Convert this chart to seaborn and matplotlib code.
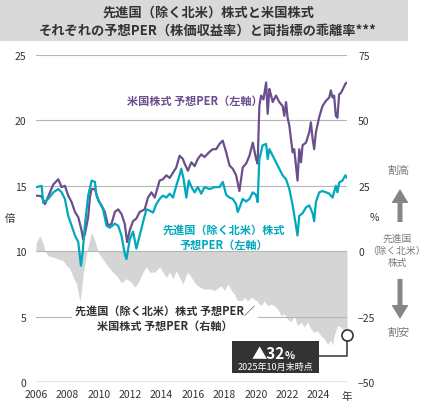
import matplotlib
matplotlib.use("Agg")
import matplotlib.pyplot as plt
from matplotlib.patches import Rectangle, FancyArrow
from matplotlib.lines import Line2D
import numpy as np
import pandas as pd
import seaborn as sns

# %% data (decimal years)
us_year = [2006.04, 2006.36, 2006.57, 2006.89, 2007.10, 2007.42, 2007.63, 2007.84, 2008.05, 2008.27,
           2008.48, 2008.69, 2008.90, 2009.00, 2009.11, 2009.32, 2009.43, 2009.54, 2009.75, 2009.96,
           2010.17, 2010.38, 2010.59, 2010.81, 2011.02, 2011.23, 2011.44, 2011.65, 2011.80, 2011.97,
           2012.18, 2012.39, 2012.60, 2012.92, 2013.13, 2013.35, 2013.56, 2013.87, 2014.08, 2014.30,
           2014.51, 2014.72, 2014.93, 2015.14, 2015.35, 2015.46, 2015.67, 2015.89, 2016.10, 2016.30,
           2016.52, 2016.73, 2017.05, 2017.26, 2017.47, 2017.68, 2017.89, 2018.11, 2018.32, 2018.53,
           2018.74, 2018.95, 2019.16, 2019.38, 2019.59, 2019.80, 2020.01, 2020.11, 2020.22, 2020.33,
           2020.48, 2020.65, 2020.75, 2020.86, 2020.97, 2021.07, 2021.28, 2021.49, 2021.70, 2021.81,
           2021.92, 2022.02, 2022.13, 2022.23, 2022.34, 2022.44, 2022.55, 2022.65, 2022.76, 2022.87,
           2022.97, 2023.19, 2023.40, 2023.50, 2023.61, 2023.71, 2023.82, 2024.03, 2024.24, 2024.46,
           2024.67, 2024.77, 2024.88, 2024.98, 2025.09, 2025.19, 2025.30, 2025.41, 2025.54, 2025.70,
           2025.80]
us_per = [14.25, 14.2, 13.6, 14.5, 15.1, 15.5, 14.9, 15.0, 14.25, 13.75,
          13.0, 12.6, 11.6, 10.9, 11.3, 12.6, 14.1, 14.75, 14.75, 13.9,
          13.5, 13.0, 11.95, 12.1, 13.0, 13.2, 12.85, 12.1, 10.7, 11.6,
          12.3, 12.5, 13.0, 13.2, 14.1, 14.5, 14.1, 15.4, 15.5, 15.8,
          15.6, 16.0, 16.4, 17.3, 17.05, 16.7, 16.15, 16.8, 16.5, 17.05,
          17.4, 17.2, 17.6, 17.8, 17.8, 18.2, 18.45, 17.55, 16.55, 16.3,
          15.8, 14.6, 16.4, 16.7, 17.3, 18.3, 17.05, 16.7, 21.1, 21.9,
          21.6, 22.9, 20.5, 22.4, 21.9, 21.4, 21.9, 21.4, 21.1, 20.35,
          21.4, 20.2, 19.6, 18.6, 17.55, 17.8, 16.55, 15.4, 17.8, 16.8,
          18.1, 18.3, 19.1, 19.85, 18.6, 17.8, 19.1, 20.25, 21.1, 21.5,
          21.75, 22.3, 21.75, 21.9, 20.35, 20.2, 22.0, 22.1, 22.4, 22.8,
          22.9]

dev_year = [2006.04, 2006.36, 2006.46, 2006.78, 2007.10, 2007.42, 2007.63, 2007.84, 2008.05, 2008.27,
            2008.48, 2008.69, 2008.79, 2008.86, 2008.97, 2009.11, 2009.32, 2009.54, 2009.75, 2009.85,
            2010.06, 2010.27, 2010.49, 2010.70, 2011.02, 2011.23, 2011.44, 2011.65, 2011.76, 2011.97,
            2012.18, 2012.39, 2012.60, 2012.81, 2013.03, 2013.24, 2013.45, 2013.66, 2013.87, 2014.08,
            2014.30, 2014.51, 2014.72, 2014.93, 2015.14, 2015.25, 2015.40, 2015.57, 2015.73, 2015.90,
            2016.10, 2016.30, 2016.52, 2016.73, 2017.05, 2017.37, 2017.68, 2017.89, 2018.11, 2018.32,
            2018.53, 2018.74, 2018.84, 2018.95, 2019.16, 2019.38, 2019.59, 2019.80, 2020.01, 2020.11,
            2020.22, 2020.43, 2020.65, 2020.75, 2020.86, 2021.07, 2021.28, 2021.49, 2021.70, 2021.92,
            2022.13, 2022.34, 2022.55, 2022.65, 2022.76, 2022.97, 2023.19, 2023.40, 2023.61, 2023.71,
            2023.82, 2024.03, 2024.24, 2024.46, 2024.67, 2024.88, 2025.09, 2025.19, 2025.30, 2025.51,
            2025.70, 2025.80]
dev_per = [14.9, 15.0, 13.7, 14.0, 14.5, 14.75, 14.5, 14.0, 12.7, 11.95,
           11.2, 10.7, 9.65, 8.9, 9.9, 11.95, 14.25, 15.4, 15.3, 14.25,
           13.7, 13.2, 11.95, 11.8, 12.1, 11.95, 11.2, 9.8, 9.4, 10.9,
           11.5, 10.2, 11.2, 12.2, 13.2, 13.1, 12.95, 13.6, 14.0, 14.25,
           14.1, 14.4, 14.1, 15.0, 15.8, 16.3, 15.5, 14.1, 15.4, 14.9,
           14.5, 14.9, 14.4, 14.9, 14.75, 14.9, 14.9, 15.3, 14.3, 14.1,
           14.0, 13.6, 13.0, 13.3, 14.0, 13.8, 14.0, 14.5, 14.3, 13.75,
           17.05, 18.1, 18.2, 17.05, 17.8, 17.3, 16.8, 16.3, 15.8, 15.5,
           14.75, 13.5, 11.95, 11.2, 12.7, 12.9, 13.35, 13.5, 12.9, 12.3,
           13.75, 14.5, 14.6, 14.5, 14.4, 14.1, 15.0, 14.5, 15.25, 15.4,
           15.8, 15.6]

gap_year = [2006.00, 2006.25, 2006.46, 2006.57, 2006.78, 2007.10, 2007.42, 2007.71, 2007.95, 2008.16,
            2008.37, 2008.58, 2008.79, 2008.90, 2009.00, 2009.22, 2009.38, 2009.54, 2009.75, 2009.96,
            2010.17, 2010.49, 2010.81, 2011.12, 2011.44, 2011.76, 2012.08, 2012.29, 2012.50, 2012.81,
            2013.03, 2013.24, 2013.56, 2013.87, 2014.08, 2014.30, 2014.51, 2014.72, 2014.93, 2015.14,
            2015.35, 2015.57, 2015.67, 2015.89, 2016.10, 2016.30, 2016.52, 2016.73, 2016.94, 2017.15,
            2017.37, 2017.58, 2017.79, 2018.00, 2018.21, 2018.43, 2018.63, 2018.84, 2019.06, 2019.27,
            2019.48, 2019.69, 2019.90, 2020.11, 2020.33, 2020.54, 2020.75, 2020.97, 2021.17, 2021.38,
            2021.60, 2021.81, 2022.02, 2022.23, 2022.44, 2022.65, 2022.87, 2023.08, 2023.29, 2023.50,
            2023.71, 2023.92, 2024.14, 2024.35, 2024.56, 2024.77, 2024.88, 2024.98, 2025.19, 2025.41,
            2025.62, 2025.80]
gap_pct = [3, 6, 2.75, 0, -1.75, -2.25, -3, -3.5, -5.5, -6.75,
           -10, -12.5, -19, -15, -8.75, -1, 3.5, 7.25, 4, -0.5,
           -2.25, -5, -7.5, -9.25, -12, -10.5, -12, -13.75, -12, -8,
           -6, -8, -8, -6, -8, -10, -8, -10.5, -7.5, -10,
           -12.5, -9, -8, -10, -12, -13.25, -14, -14.5, -14.5, -14.5,
           -15.1, -14, -13.25, -15, -12.5, -15, -16.4, -19, -19.5, -17.6,
           -19, -17.6, -18.3, -19.5, -20.8, -19, -20.8, -20.2, -20.8, -22,
           -24.6, -24, -26, -27, -24.6, -28.5, -27, -29, -27, -29.75,
           -31, -30.4, -32.3, -33.5, -35.5, -34, -36, -32.3, -28.5, -29,
           -30.4, -32]

year_ticks = list(range(2006, 2025, 2))
left_ticks = [0, 5, 10, 15, 20, 25]
right_ticks = [-50, -25, 0, 25, 50, 75]

# %%
PURPLE = "#6b4f8c"
CYAN = "#00a8bd"
GRAY_FILL = "#d5d5d5"
TXT = "#333333"
ARROW = "#8a8581"

sns.set_theme(style="white")
plt.rcParams["font.family"] = ["Noto Sans CJK JP", "DejaVu Sans"]

W, H = 425, 402
fig = plt.figure(figsize=(W / 100, H / 100), dpi=100)


def px(x, y):
    return x / W, 1 - y / H


ax1 = fig.add_axes([36 / W, 1 - 383 / H, 311 / W, 327 / H])
ax2 = ax1.twinx()
ax1.set_zorder(ax2.get_zorder() + 1)
ax1.patch.set_visible(False)

# divergence area (right axis)
ax2.fill_between(gap_year, 0, gap_pct, color=GRAY_FILL, lw=0)
ax2.set_ylim(-50, 75)
ax2.set_yticks(right_ticks)
ax2.set_yticklabels(["−50", "−25", "0", "25", "50", "75"])

# PER lines (left axis)
us = pd.DataFrame({"year": us_year, "per": us_per})
dev = pd.DataFrame({"year": dev_year, "per": dev_per})
sns.lineplot(data=us, x="year", y="per", ax=ax1, color=PURPLE, lw=1.6, errorbar=None)
sns.lineplot(data=dev, x="year", y="per", ax=ax1, color=CYAN, lw=1.6, errorbar=None)

ax1.set_xlim(2006, 2025.8)
ax1.set_ylim(0, 25)
ax1.set_yticks(left_ticks)
ax1.set_xticks(year_ticks)
ax1.set_xlabel("")
ax1.set_ylabel("")
for a in (ax1, ax2):
    for s in a.spines.values():
        s.set_visible(False)
    a.tick_params(length=0, labelsize=7.5, colors=TXT)
ax1.tick_params(axis="y", pad=7)
ax1.tick_params(axis="x", pad=5)
ax2.tick_params(axis="y", pad=8)
ax2.grid(False)
ax1.grid(False)
for v in left_ticks[1:]:
    ax1.axhline(v, color="#b5b5b5", lw=0.8, zorder=0)
ax1.axhline(0, color="#777777", lw=1.0, zorder=0)

# end marker
ax2.plot(gap_year[-1], gap_pct[-1], marker="o", ms=8, mfc="white", mec=TXT, mew=1.2,
         zorder=5, clip_on=False)

# title bar
fig.add_artist(Rectangle((0, 1 - 42 / H), 408 / W, 42 / H, transform=fig.transFigure,
                         facecolor="#d9d9d9", edgecolor="none", zorder=0))
fig.text(*px(208, 13), "先進国（除く北米）株式と米国株式", ha="center", va="center",
         fontsize=9.5, fontweight="bold", color=TXT)
fig.text(*px(208, 31), "それぞれの予想PER（株価収益率）と両指標の乖離率***", ha="center",
         va="center", fontsize=9.5, fontweight="bold", color=TXT)

# axis unit labels
fig.text(*px(10, 219), "倍", ha="center", va="center", fontsize=7.5, color=TXT)
fig.text(*px(374, 218), "%", ha="center", va="center", fontsize=7.5, color=TXT)
fig.text(*px(347, 397), "年", ha="center", va="center", fontsize=7.5, color=TXT)

# series labels
fig.text(*px(195, 101), "米国株式 予想PER（左軸）", ha="center", va="center",
         fontsize=8, fontweight="bold", color=PURPLE)
fig.text(*px(224, 238), "先進国（除く北米）株式\n予想PER（左軸）", ha="center", va="center",
         fontsize=8, fontweight="bold", color=CYAN, linespacing=1.15)
fig.text(*px(165, 319), "先進国（除く北米）株式 予想PER／\n米国株式 予想PER（右軸）", ha="center",
         va="center", fontsize=8, fontweight="bold", color=TXT, linespacing=1.15,
         bbox=dict(facecolor="white", edgecolor="none", pad=2), zorder=4)

# latest value callout
fig.add_artist(Rectangle(px(232, 374), 87 / W, 32 / H, transform=fig.transFigure,
                         facecolor="#333333", edgecolor="none", zorder=2))
fig.text(*px(285, 354), "▲32", ha="right", va="center", fontsize=11,
         fontweight="bold", color="white", zorder=6)
fig.text(*px(285, 356), "%", ha="left", va="center", fontsize=7.5,
         fontweight="bold", color="white", zorder=6)
fig.text(*px(275, 367), "2025年10月末時点", ha="center", va="center", fontsize=6.5,
         color="white", zorder=6)
fig.add_artist(Line2D([347 / W, 347 / W, 319 / W], [1 - 341.5 / H, 1 - 357 / H, 1 - 357 / H],
                      transform=fig.transFigure, color=TXT, lw=1.1, zorder=2))

# cheap / expensive arrows
fig.text(*px(399, 171), "割高", ha="center", va="center", fontsize=8, color="#7a7a7a")
fig.add_artist(FancyArrow(400 / W, 1 - 223 / H, 0, 33 / H, width=5 / W, head_width=17 / W,
                          head_length=14 / H, length_includes_head=True,
                          transform=fig.transFigure, color=ARROW, lw=0))
fig.text(*px(397, 251), "先進国\n（除く北米）\n株式", ha="center", va="center", fontsize=7,
         color="#7a7a7a", linespacing=1.25)
fig.add_artist(FancyArrow(400 / W, 1 - 280 / H, 0, -40 / H, width=5 / W, head_width=17 / W,
                          head_length=14 / H, length_includes_head=True,
                          transform=fig.transFigure, color=ARROW, lw=0))
fig.text(*px(399, 333), "割安", ha="center", va="center", fontsize=8, color="#7a7a7a")

fig.savefig("out.png", dpi=100)
